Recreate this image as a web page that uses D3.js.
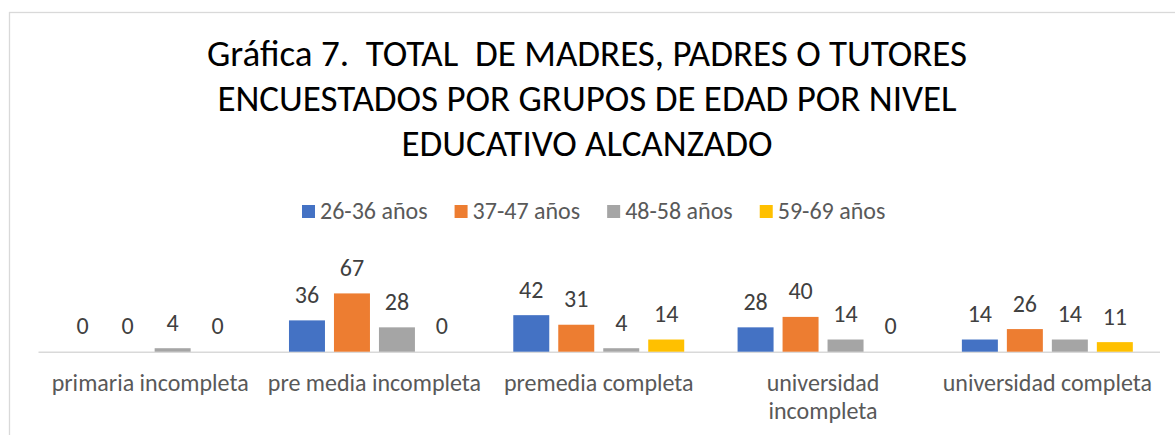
<!DOCTYPE html>
<html>
<head>
<meta charset="utf-8">
<script src="https://cdn.jsdelivr.net/npm/d3@7"></script>
<style>
  html, body { margin: 0; padding: 0; background: #fff; }
  svg { display: block; font-family: Carlito, Lato, "Liberation Sans", sans-serif; }
  .title { white-space: pre; }
</style>
</head>
<body>
<svg id="chart" width="1175" height="435"></svg>
<script>
const titleLines = [
  "Gráfica 7.  TOTAL  DE MADRES, PADRES O TUTORES",
  "ENCUESTADOS POR GRUPOS DE EDAD POR NIVEL",
  "EDUCATIVO ALCANZADO"
];
const categories = [
  "primaria incompleta",
  "pre media incompleta",
  "premedia completa",
  "universidad incompleta",
  "universidad completa"
];
const seriesNames = ["26-36 años", "37-47 años", "48-58 años", "59-69 años"];
const seriesColors = ["#4472C4", "#ED7D31", "#A5A5A5", "#FFC000"];
const s2636 = [0, 36, 42, 28, 14];
const s3747 = [0, 67, 31, 40, 26];
const s4858 = [4, 28, 4, 14, 14];
const s5969 = [0, 0, 14, 0, 11];
const seriesValues = [s2636, s3747, s4858, s5969];

const svg = d3.select("#chart");
const W = 1175, H = 435;

// chart area border
svg.append("rect")
  .attr("x", 9.5).attr("y", 12.5)
  .attr("width", W + 20).attr("height", H + 20)
  .attr("fill", "#fff").attr("stroke", "#D9D9D9").attr("stroke-width", 1.3);

// title
const title = svg.append("text")
  .attr("class", "title")
  .attr("xml:space", "preserve")
  .attr("text-anchor", "middle")
  .attr("fill", "#000")
  .style("font-size", "37px");
titleLines.forEach((t, i) => {
  title.append("tspan").attr("x", 587).attr("y", 66 + i * 45).text(t);
});

// legend
const legend = svg.append("g").style("font-size", "24px").attr("fill", "#595959");
let lx = 302;
seriesNames.forEach((name, i) => {
  const g = legend.append("g").attr("transform", `translate(${lx},0)`);
  g.append("rect").attr("x", 0).attr("y", 205).attr("width", 13).attr("height", 13).attr("fill", seriesColors[i]);
  const t = g.append("text").attr("x", 18).attr("y", 219).text(name);
  lx += 18 + t.node().getComputedTextLength() + 27;
});

// scales
const x0 = d3.scaleBand().domain(categories).range([38, 1159.5]).padding(0);
const x1 = d3.scaleBand().domain(seriesNames).range([0, x0.bandwidth()])
  .paddingInner(0.2).paddingOuter(0.593);
const y = d3.scaleLinear().domain([0, 80]).range([351.7, 282.1]);

// axis line
const xAxis = d3.axisBottom(x0).tickSize(0).tickSizeOuter(0).tickPadding(0);
const axisG = svg.append("g").attr("transform", `translate(0,${y(0)})`).call(xAxis);
axisG.select(".domain").attr("stroke", "#D9D9D9").attr("stroke-width", 1.5);
axisG.selectAll(".tick text").remove();

// bars
const groups = svg.append("g").selectAll("g")
  .data(categories).join("g")
  .attr("transform", d => `translate(${x0(d)},0)`);

groups.each(function(cat, ci) {
  const g = d3.select(this);
  seriesNames.forEach((s, si) => {
    const v = seriesValues[si][ci];
    g.append("rect")
      .attr("x", x1(s)).attr("width", x1.bandwidth())
      .attr("y", y(v)).attr("height", y(0) - y(v))
      .attr("fill", seriesColors[si]);
    g.append("text")
      .attr("x", x1(s) + x1.bandwidth() / 2)
      .attr("y", y(v) - 17.5)
      .attr("text-anchor", "middle")
      .attr("fill", "#404040")
      .style("font-size", "24px")
      .text(v);
  });
});

// category labels with wrapping
const labelG = svg.append("g").style("font-size", "24px").attr("fill", "#595959");
categories.forEach(cat => {
  const cx = x0(cat) + x0.bandwidth() / 2;
  const t = labelG.append("text").attr("text-anchor", "middle").attr("x", cx).attr("y", 391);
  const words = cat.split(" ");
  let line = [];
  let tspan = t.append("tspan").attr("x", cx).attr("dy", 0);
  words.forEach(w => {
    line.push(w);
    tspan.text(line.join(" "));
    if (tspan.node().getComputedTextLength() > x0.bandwidth() - 2 && line.length > 1) {
      line.pop();
      tspan.text(line.join(" "));
      line = [w];
      tspan = t.append("tspan").attr("x", cx).attr("dy", 28).text(w);
    }
  });
});
</script>
</body>
</html>
